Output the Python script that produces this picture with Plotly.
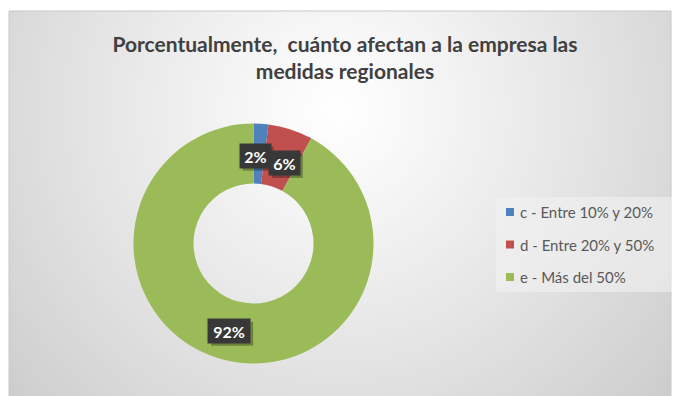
import math
import plotly.graph_objects as go

# Survey answers and their share of responses (%)
categories = ["c - Entre 10% y 20%", "d - Entre 20% y 50%", "e - Más del 50%"]
shares = [2, 6, 92]
slice_colors = ["#4F81BD", "#C0504D", "#9BBB59"]
title_text = "Porcentualmente,  cuánto afectan a la empresa las<br>medidas regionales"

W, H = 675, 396
FONT = "Lato"

# Donut placement in pixels
cx, cy, R = 253.5, 243.5, 120.0
hole = 0.5

# Small pixel nudges so the two narrow-slice labels collide less
label_nudge = [(-4, 2), (3, 5), (-2, 0)]


def px(x):
    return x / W


def py(y):
    return 1 - y / H


fig = go.Figure(
    go.Pie(
        labels=categories,
        values=shares,
        hole=hole,
        sort=False,
        direction="clockwise",
        rotation=0,
        marker=dict(colors=slice_colors, line=dict(width=0)),
        textinfo="none",
        hoverinfo="label+percent",
        showlegend=False,
        domain=dict(x=[px(cx - R), px(cx + R)], y=[py(cy + R), py(cy - R)]),
    )
)

shapes = []

# Radial grey-to-white background of the chart area
gx, gy = 337.0, 110.0
rmax = 470.0
steps = 70
for i in range(steps):
    r = rmax * (1 - i / steps)
    v = int(round(255 - 50 * min(r / 440.0, 1.0) ** 1.1))
    shapes.append(dict(
        type="circle", xref="paper", yref="paper", layer="below",
        x0=px(gx - r), x1=px(gx + r), y0=py(gy + r), y1=py(gy - r),
        fillcolor=f"rgb({v},{v},{v})", line=dict(width=0),
    ))

# White page around the chart area
left, top, right = 9, 11, 671
for x0, y0, x1, y1 in [(-10, -10, left, H + 10), (-10, -10, W + 10, top), (right, -10, W + 10, H + 10)]:
    shapes.append(dict(
        type="rect", xref="paper", yref="paper", layer="below",
        x0=px(x0), x1=px(x1), y0=py(y1), y1=py(y0),
        fillcolor="white", line=dict(width=0),
    ))
shapes.append(dict(
    type="rect", xref="paper", yref="paper", layer="below",
    x0=px(left), x1=px(right), y0=py(H + 2), y1=py(top),
    fillcolor="rgba(0,0,0,0)", line=dict(color="#c8c8c8", width=1),
))

# Legend panel
shapes.append(dict(
    type="rect", xref="paper", yref="paper", layer="below",
    x0=px(496), x1=px(672), y0=py(292), y1=py(197),
    fillcolor="rgba(242,242,242,0.6)", line=dict(width=0),
))

annotations = []

# Legend entries
leg_y0, leg_dy = 212, 32.5
for i, (lab, col) in enumerate(zip(categories, slice_colors)):
    y = leg_y0 + i * leg_dy
    shapes.append(dict(
        type="rect", xref="paper", yref="paper", layer="above",
        x0=px(506), x1=px(514), y0=py(y + 4), y1=py(y - 4),
        fillcolor=col, line=dict(width=0),
    ))
    annotations.append(dict(
        x=px(518), y=py(y), xref="paper", yref="paper",
        text=lab, showarrow=False, xanchor="left", yanchor="middle",
        font=dict(family=FONT, size=15, color="#595959"),
    ))

# Data labels at the middle of each ring segment
r_mid = R * (1 + hole) / 2
total = sum(shares)
acc = 0
for v, (nx, ny) in zip(shares, label_nudge):
    theta = 2 * math.pi * (acc + v / 2) / total
    acc += v
    lx = cx + r_mid * math.sin(theta) + nx
    ly = cy - r_mid * math.cos(theta) + ny
    label = f"{round(100 * v / total)}%"
    bw = 11 * len(label) + 9
    bh = 24
    # drop shadow behind the label box
    shapes.append(dict(
        type="rect", xref="paper", yref="paper", layer="above",
        x0=px(lx - bw / 2 + 3), x1=px(lx + bw / 2 + 3),
        y0=py(ly + bh / 2 + 3), y1=py(ly - bh / 2 + 3),
        fillcolor="rgba(0,0,0,0.3)", line=dict(width=0),
    ))
    annotations.append(dict(
        x=px(lx), y=py(ly), xref="paper", yref="paper",
        text=f"<b>{label}</b>", showarrow=False, xanchor="center", yanchor="middle",
        font=dict(family=FONT, size=16, color="white"),
        bgcolor="#383838", borderpad=3, width=bw - 6, height=bh - 6,
    ))

fig.update_layout(
    width=W, height=H,
    margin=dict(l=0, r=0, t=0, b=0),
    paper_bgcolor="white",
    plot_bgcolor="rgba(0,0,0,0)",
    title=dict(
        text=f"<b>{title_text}</b>",
        x=345 / W, xanchor="center",
        y=1 - 52 / H, yanchor="top",
        font=dict(family=FONT, size=21, color="#404040"),
    ),
    shapes=shapes,
    annotations=annotations,
)

fig.write_html("out.html")
